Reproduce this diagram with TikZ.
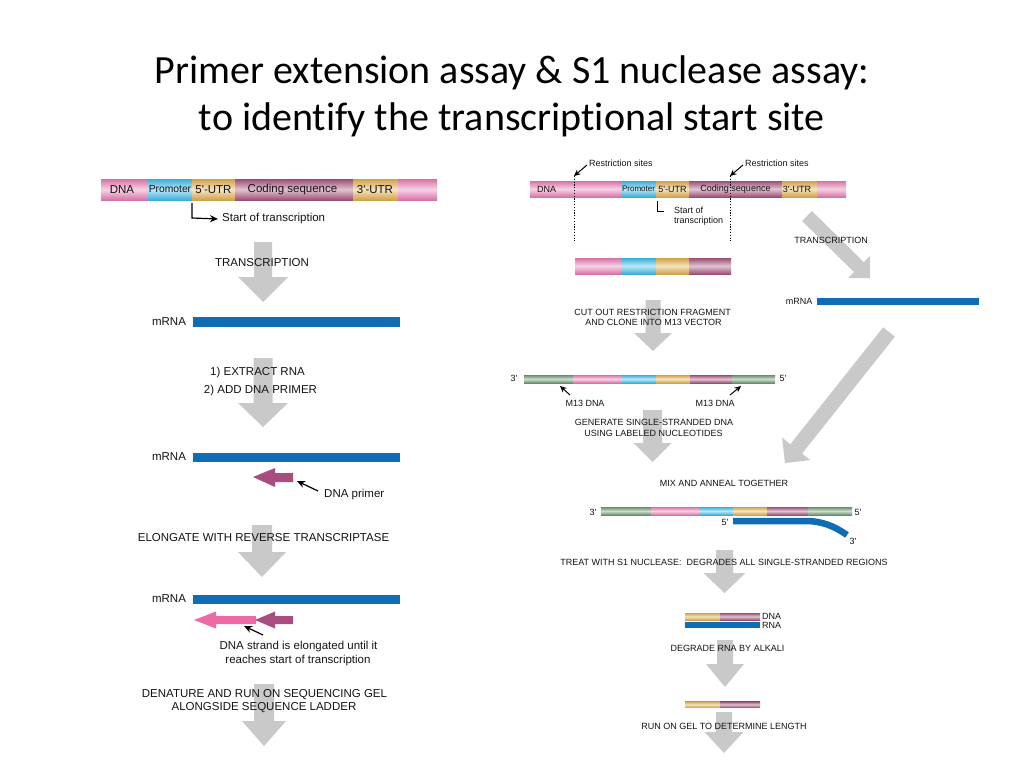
\documentclass[tikz,border=0pt]{standalone}
\usepackage{fontspec}
\usetikzlibrary{calc,arrows.meta}
\newfontfamily\labfont{Liberation Sans}
\newfontfamily\ttlfont[Ligatures=NoCommon]{Carlito}
\definecolor{dpink}{RGB}{233,125,180}
\definecolor{dcyan}{RGB}{63,189,235}
\definecolor{dyel}{RGB}{226,176,79}
\definecolor{dmauve}{RGB}{169,85,127}
\definecolor{dgreen}{RGB}{110,155,116}
\definecolor{rnablue}{RGB}{15,109,182}
\definecolor{primerc}{RGB}{169,76,128}
\definecolor{elongc}{RGB}{238,106,167}
\definecolor{arrowgray}{RGB}{201,201,201}
\definecolor{txt}{RGB}{20,20,20}
\newcommand{\seg}[5]{\shade[top color=#5!92!black, bottom color=#5!92!black, middle color=#5!35!white] (#1,#3) rectangle (#2,#4);}
\newcommand{\grayarr}[5]{%
  \coordinate (gS) at #1;
  \coordinate (gE) at #2;
  \coordinate (gB) at ($(gE)!#5pt!(gS)$);
  \fill[arrowgray] ($(gS)!#3pt!90:(gE)$) -- ($(gB)!#3pt!-90:(gS)$) -- ($(gB)!#4pt!-90:(gS)$) -- (gE) -- ($(gB)!#4pt!90:(gS)$) -- ($(gB)!#3pt!90:(gS)$) -- ($(gS)!#3pt!-90:(gE)$) -- cycle;}
\begin{document}
\begin{tikzpicture}[x=1pt,y=-1pt,
  ttl/.style={font=\ttlfont\fontsize{40}{48}\selectfont, inner sep=0pt, text=black},
  lbl/.style={font=\labfont\fontsize{11.5}{13.8}\selectfont, inner sep=0pt, text=txt},
  blbl/.style={font=\labfont\fontsize{11.5}{13.8}\selectfont, inner sep=0pt, text=txt},
  rlbl/.style={font=\labfont\fontsize{9}{10.8}\selectfont, inner sep=0pt, text=txt},
  ptr/.style={-{Stealth[length=8pt,width=7pt]}, line width=1.2pt, draw=black},
  rptr/.style={-{Stealth[length=6.5pt,width=6pt]}, line width=1pt, draw=black},
  startln/.style={line width=1.2pt, draw=black},
  dotln/.style={line width=0.8pt, dash pattern=on 1.2pt off 1.6pt, draw=black}]
\useasboundingbox (0,0) rectangle (1024,768);
\fill[white] (0,0) rectangle (1024,768);

% ---------- title ----------
\node[ttl] (t1) at (512,73) {Primer extension assay \& S1 nuclease assay:};
\node[ttl] (t2) at (512,120) {to identify the transcriptional start site};

% ---------- gray arrows (left) ----------
\grayarr{(263,242)}{(263,302)}{9}{25}{25}
\grayarr{(263,358)}{(263,427)}{9.5}{25}{24}
\grayarr{(262,525)}{(262,577)}{10}{24}{25}
\grayarr{(264,684)}{(264,746)}{10}{22}{25}

% ---------- gray arrows (right) ----------
\grayarr{(653,300)}{(653,351)}{7.5}{19}{18}
\grayarr{(652.5,410)}{(652.5,462)}{9.5}{19}{19}
\grayarr{(724.5,550)}{(724.5,593)}{8.5}{21}{20}
\grayarr{(725,640)}{(725,687)}{8}{19}{23}
\grayarr{(724,712)}{(724,753)}{8}{19.5}{21}
\grayarr{(807,216)}{(870,278)}{7}{15.5}{15.5}
\grayarr{(889,332)}{(785,463)}{7.5}{18}{18}

% ---------- left: DNA bar ----------
\seg{101}{148}{179}{200}{dpink}
\seg{148}{192}{179}{200}{dcyan}
\seg{192}{235}{179}{200}{dyel}
\seg{235}{353}{179}{200}{dmauve}
\seg{353}{398}{179}{200}{dyel}
\seg{398}{437}{179}{200}{dpink}
\node[blbl] (ldna) at (122,189.5) {DNA};
\node[blbl, font=\labfont\fontsize{10.3}{12}\selectfont] (lprom) at (170,189.5) {Promoter};
\node[blbl] (l5utr) at (213.5,189.5) {5'-UTR};
\node[blbl] (lcod) at (292.5,189.5) {Coding sequence};
\node[blbl] (l3utr) at (375,189.5) {3'-UTR};

\coordinate (ls0) at (192,203);
\coordinate (ls1) at (192,218);
\node[lbl, anchor=west] (lstart) at (222,219) {Start of transcription};
\draw[startln, -{Stealth[length=8pt,width=7pt]}] (ls0) -- (ls1) -- (lstart.west -| 218,0);

\node[lbl] (ltr) at (262,263) {TRANSCRIPTION};

% mRNA 1
\fill[rnablue] (193,317) rectangle (400,327);
\node[lbl] (lm1) at (169,322) {mRNA};

\node[lbl] (lex1) at (257.5,373) {1) EXTRACT RNA};
\node[lbl] (lex2) at (260.5,391) {2) ADD DNA PRIMER};

% mRNA 2 + primer
\fill[rnablue] (193,453) rectangle (400,462);
\node[lbl] (lm2) at (169,457) {mRNA};
\fill[primerc] (253,477) -- (275,468) -- (275,473) -- (293,473) -- (293,482) -- (275,482) -- (275,487) -- cycle;
\node[lbl, anchor=west] (lprim) at (324,495) {DNA primer};
\coordinate (pp0) at (318,491);
\coordinate (pp1) at (297,481);
\draw[ptr] (pp0) -- (pp1);

\node[lbl] (lelong) at (263.5,538) {ELONGATE WITH REVERSE TRANSCRIPTASE};

% mRNA 3 + elongated strand
\fill[rnablue] (193,595) rectangle (400,604);
\node[lbl] (lm3) at (169,599) {mRNA};
\fill[elongc] (194,620) -- (216,611.5) -- (216,616) -- (256,616) -- (256,624) -- (216,624) -- (216,628.5) -- cycle;
\fill[primerc] (255,620) -- (275,611.5) -- (275,616) -- (293,616) -- (293,624) -- (275,624) -- (275,628.5) -- cycle;
\coordinate (pe0) at (263,635);
\coordinate (pe1) at (244,626);
\draw[ptr] (pe0) -- (pe1);
\node[lbl] (lstr1) at (298.5,647) {DNA strand is elongated until it};
\node[lbl] (lstr2) at (298,660.5) {reaches start of transcription};

\node[lbl] (lden1) at (264.5,695) {DENATURE AND RUN ON SEQUENCING GEL};
\node[lbl] (lden2) at (264,708) {ALONGSIDE SEQUENCE LADDER};

% ---------- right: DNA bar ----------
\seg{530}{621}{181}{197}{dpink}
\seg{621}{656}{181}{197}{dcyan}
\seg{656}{689}{181}{197}{dyel}
\seg{689}{782}{181}{197}{dmauve}
\seg{782}{817}{181}{197}{dyel}
\seg{817}{846}{181}{197}{dpink}
\node[rlbl] (rdna) at (546.5,189) {DNA};
\node[rlbl, font=\labfont\fontsize{8}{9.6}\selectfont] (rprom) at (638.5,189) {Promoter};
\node[rlbl] (r5utr) at (672.5,189) {5'-UTR};
\node[rlbl] (rcod) at (735.5,189) {Coding sequence};
\node[rlbl] (r3utr) at (797,189) {3'-UTR};

% restriction sites
\node[rlbl, anchor=west] (rrs1) at (589,163) {Restriction sites};
\node[rlbl, anchor=west] (rrs2) at (745,163) {Restriction sites};
\coordinate (rp1a) at (587,165);
\coordinate (rp1b) at (574,176);
\coordinate (rp2a) at (743,165);
\coordinate (rp2b) at (730,176);
\draw[rptr] (rp1a) -- (rp1b);
\draw[rptr] (rp2a) -- (rp2b);
\coordinate (rd1) at (574,241);
\coordinate (rd2) at (730,241);
\draw[dotln] (rp1b) -- (rd1);
\draw[dotln] (rp2b) -- (rd2);

% start of transcription (right)
\coordinate (rs0) at (657,201);
\coordinate (rs1) at (657,211);
\coordinate (rs2) at (664,211);
\draw[line width=0.9pt] (rs0) -- (rs1) -- (rs2);
\node[rlbl, anchor=west] (rst1) at (674,210.5) {Start of};
\node[rlbl, anchor=west] (rst2) at (674,221.5) {transcription};

% fragment
\seg{575}{621}{258}{274}{dpink}
\seg{621}{656}{258}{274}{dcyan}
\seg{656}{689}{258}{274}{dyel}
\seg{689}{731}{258}{274}{dmauve}

\node[rlbl] (rtr) at (831,240) {TRANSCRIPTION};

% mRNA right
\fill[rnablue] (817,298) rectangle (979,305);
\node[rlbl] (rm) at (799,301) {mRNA};

\node[rlbl] (rcut1) at (652.5,312) {CUT OUT RESTRICTION FRAGMENT};
\node[rlbl] (rcut2) at (653.5,322.5) {AND CLONE INTO M13 VECTOR};

% M13 construct
\seg{524}{573}{375}{383}{dgreen}
\seg{573}{621}{375}{383}{dpink}
\seg{621}{656}{375}{383}{dcyan}
\seg{656}{690}{375}{383}{dyel}
\seg{690}{732}{375}{383}{dmauve}
\seg{732}{775}{375}{383}{dgreen}
\node[rlbl] (rm3a) at (514,378) {3'};
\node[rlbl] (rm5a) at (783,378) {5'};
\node[rlbl] (rm13a) at (585,403) {M13 DNA};
\node[rlbl] (rm13b) at (715,403) {M13 DNA};
\coordinate (mp1a) at (570,395);
\coordinate (mp1b) at (560,386);
\coordinate (mp2a) at (730,395);
\coordinate (mp2b) at (741,386);
\draw[rptr] (mp1a) -- (mp1b);
\draw[rptr] (mp2a) -- (mp2b);

\node[rlbl] (rgen1) at (654,422) {GENERATE SINGLE-STRANDED DNA};
\node[rlbl] (rgen2) at (653.5,433) {USING LABELED NUCLEOTIDES};

\node[rlbl] (rmix) at (724,483) {MIX AND ANNEAL TOGETHER};

% hybrid
\seg{601}{651}{507}{515}{dgreen}
\seg{651}{699}{507}{515}{dpink}
\seg{699}{733}{507}{515}{dcyan}
\seg{733}{767}{507}{515}{dyel}
\seg{767}{808}{507}{515}{dmauve}
\seg{808}{852}{507}{515}{dgreen}
\node[rlbl] (rh3) at (593,512) {3'};
\node[rlbl] (rh5) at (858,512) {5'};
\coordinate (rb0) at (733,521);
\coordinate (rb1) at (805,521);
\coordinate (rb2) at (847,535);
\draw[rnablue, line width=6.5pt] (rb0) -- (rb1) .. controls (822,521) and (834,526) .. (rb2);
\node[rlbl] (rr5) at (725,522) {5'};
\node[rlbl] (rr3) at (853,541) {3'};

\node[rlbl] (rtreat) at (724,562) {TREAT WITH S1 NUCLEASE:\ \ DEGRADES ALL SINGLE-STRANDED REGIONS};

% duplex
\seg{685}{720}{613}{620}{dyel}
\seg{720}{760}{613}{620}{dmauve}
\fill[rnablue] (685,622) rectangle (760,628);
\node[rlbl, anchor=west] (rdd) at (762,616.5) {DNA};
\node[rlbl, anchor=west] (rdr) at (762,625.5) {RNA};

\node[rlbl] (rdeg) at (727.5,648) {DEGRADE RNA BY ALKALI};

\seg{685}{720}{701.5}{707.5}{dyel}
\seg{720}{760}{701.5}{707.5}{dmauve}

\node[rlbl] (rrun) at (724,726) {RUN ON GEL TO DETERMINE LENGTH};
\end{tikzpicture}
\end{document}
